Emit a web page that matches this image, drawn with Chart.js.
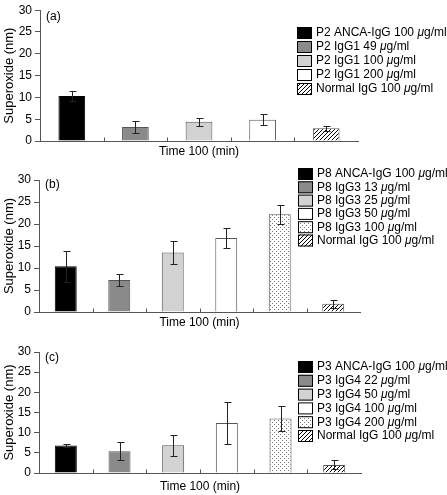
<!DOCTYPE html>
<html>
<head>
<meta charset="utf-8">
<script src="https://cdn.jsdelivr.net/npm/chart.js@4/dist/chart.umd.min.js"></script>
<style>
  body { margin: 0; background: #fff; width: 447px; height: 495px; position: relative; overflow: hidden; }
  canvas { position: absolute; left: 0; }
</style>
</head>
<body>
<canvas id="ca" width="447" height="163" style="top:0px"></canvas>
<canvas id="cb" width="447" height="171" style="top:163px"></canvas>
<canvas id="cc" width="447" height="161" style="top:334px"></canvas>
<script>
// data
const xTitle = 'Time 100 (min)';
const yTitle = 'Superoxide (nm)';

const labelsA = ['P2 ANCA-IgG 100 μg/ml', 'P2 IgG1 49 μg/ml', 'P2 IgG1 100 μg/ml', 'P2 IgG1 200 μg/ml', 'Normal IgG 100 μg/ml'];
const valuesA = [10.3, 3.2, 4.4, 4.9, 2.9];
const errorsA = [1.1, 1.4, 0.9, 1.3, 0.6];

const labelsB = ['P8 ANCA-IgG 100 μg/ml', 'P8 IgG3 13 μg/ml', 'P8 IgG3 25 μg/ml', 'P8 IgG3 50 μg/ml', 'P8 IgG3 100 μg/ml', 'Normal IgG 100 μg/ml'];
const valuesB = [10.4, 7.3, 13.5, 16.8, 22.2, 1.9];
const errorsB = [3.5, 1.4, 2.6, 2.3, 2.2, 0.9];

const labelsC = ['P3 ANCA-IgG 100 μg/ml', 'P3 IgG4 22 μg/ml', 'P3 IgG4 50 μg/ml', 'P3 IgG4 100 μg/ml', 'P3 IgG4 200 μg/ml', 'Normal IgG 100 μg/ml'];
const valuesC = [6.8, 5.4, 6.9, 12.4, 13.5, 2.0];
const errorsC = [0.3, 2.2, 2.6, 5.3, 3.0, 1.1];

const FONT = '"Liberation Sans", Arial, sans-serif';
const AXIS = '#555';

// fill patterns
function makeHatch() {
  const c = document.createElement('canvas');
  c.width = c.height = 4;
  const g = c.getContext('2d');
  g.fillStyle = '#fff';
  g.fillRect(0, 0, 4, 4);
  g.strokeStyle = '#000';
  g.lineWidth = 1;
  g.beginPath();
  g.moveTo(-1, 5); g.lineTo(5, -1);
  g.moveTo(-1, 1); g.lineTo(1, -1);
  g.moveTo(3, 5); g.lineTo(5, 3);
  g.stroke();
  return g.createPattern(c, 'repeat');
}
function makeDots() {
  const c = document.createElement('canvas');
  c.width = c.height = 4;
  const g = c.getContext('2d');
  g.fillStyle = '#fff';
  g.fillRect(0, 0, 4, 4);
  g.fillStyle = '#777';
  g.fillRect(0, 0, 1, 1);
  g.fillRect(2, 2, 1, 1);
  return g.createPattern(c, 'repeat');
}
const fillMap = {
  black: '#000',
  dark: '#8a8a8a',
  light: '#d2d2d2',
  white: '#fff',
  dots: makeDots(),
  hatch: makeHatch()
};
const styleFive = ['black', 'dark', 'light', 'white', 'hatch'];
const styleSix = ['black', 'dark', 'light', 'white', 'dots', 'hatch'];

const figPlugin = {
  id: 'fig',
  afterDatasetsDraw(chart) {
    const o = chart.options.plugins.fig;
    const ctx = chart.ctx;
    const y = chart.scales.y, x = chart.scales.x;
    const meta = chart.getDatasetMeta(0);
    ctx.save();
    // error bars
    ctx.strokeStyle = '#222';
    ctx.lineWidth = 1;
    meta.data.forEach((bar, i) => {
      const v = o.values[i], e = o.errors[i];
      const px = Math.round(bar.x) + 0.5;
      const top = Math.round(y.getPixelForValue(v + e)) + 0.5;
      const bot = Math.round(y.getPixelForValue(v - e)) + 0.5;
      ctx.beginPath();
      ctx.moveTo(px, top); ctx.lineTo(px, bot);
      ctx.moveTo(px - 3, top); ctx.lineTo(px + 4, top);
      ctx.moveTo(px - 3, bot); ctx.lineTo(px + 4, bot);
      ctx.stroke();
    });
    // inward ticks between categories
    ctx.strokeStyle = AXIS;
    const base = Math.round(chart.chartArea.bottom) + 0.5;
    for (let i = 1; i < o.values.length; i++) {
      const tx = Math.round((x.getPixelForValue(i - 1) + x.getPixelForValue(i)) / 2) + 0.5;
      ctx.beginPath();
      ctx.moveTo(tx, base); ctx.lineTo(tx, base - 4);
      ctx.stroke();
    }
    // panel tag
    ctx.fillStyle = '#000';
    ctx.font = '12px ' + FONT;
    ctx.textBaseline = 'middle';
    ctx.textAlign = 'left';
    ctx.fillText(o.tag, chart.chartArea.left + 6, chart.chartArea.top + o.tagDy);
    // legend
    const labels = chart.data.labels;
    const fills = chart.data.datasets[0].backgroundColor;
    labels.forEach((lab, i) => {
      const ly = o.legY + i * o.legStep;
      ctx.fillStyle = fills[i];
      ctx.fillRect(o.legX, ly - 6, 15, 12);
      ctx.strokeStyle = '#000';
      ctx.strokeRect(o.legX + 0.5, ly - 5.5, 14, 11);
      ctx.fillStyle = '#000';
      let tx = o.legX + 19;
      const parts = lab.split('μ');
      ctx.font = '12px ' + FONT;
      ctx.fillText(parts[0], tx, ly);
      tx += ctx.measureText(parts[0]).width;
      if (parts.length > 1) {
        ctx.font = 'italic 12px ' + FONT;
        ctx.fillText('μ', tx, ly);
        tx += ctx.measureText('μ').width;
        ctx.font = '12px ' + FONT;
        ctx.fillText(parts[1], tx, ly);
      }
    });
    ctx.restore();
  }
};

function makeChart(id, labels, values, errors, styles, opt) {
  return new Chart(document.getElementById(id), {
    type: 'bar',
    data: {
      labels,
      datasets: [{
        data: values,
        backgroundColor: styles.map(s => fillMap[s]),
        borderColor: styles.map(s => s === 'black' ? '#000' : '#555'),
        borderWidth: 1,
        borderSkipped: 'bottom',
        barPercentage: opt.barPct,
        categoryPercentage: 1
      }]
    },
    options: {
      responsive: false,
      animation: false,
      devicePixelRatio: 1,
      layout: { padding: { top: opt.top, right: opt.right, left: 0, bottom: 0 } },
      plugins: {
        legend: { display: false },
        tooltip: { enabled: false },
        fig: { values, errors, tag: opt.tag, tagDy: opt.tagDy, legX: opt.legX, legY: opt.legY, legStep: opt.legStep }
      },
      scales: {
        x: {
          grid: { display: false },
          border: { color: AXIS, width: 1 },
          ticks: { display: false },
          title: { display: true, text: xTitle, color: '#000', font: { family: FONT, size: 12 }, padding: { top: 0, bottom: opt.titlePad } },
          afterFit: s => { s.height = opt.xh; }
        },
        y: {
          min: 0,
          max: 30,
          ticks: { stepSize: 5, color: '#000', padding: 3, font: { family: FONT, size: 12 } },
          grid: { drawOnChartArea: false, tickLength: 5, color: AXIS },
          border: { color: AXIS, width: 1 },
          title: { display: true, text: yTitle, color: '#000', font: { family: FONT, size: 13 }, padding: { top: 2, bottom: 0 } },
          afterFit: s => { s.width = opt.left; }
        }
      }
    },
    plugins: [figPlugin]
  });
}

makeChart('ca', labelsA, valuesA, errorsA, styleFive,
  { left: 40, right: 89, top: 8, xh: 22, titlePad: 4, barPct: 0.42, tag: '(a)', tagDy: 6, legX: 297, legY: 33, legStep: 14 });
makeChart('cb', labelsB, valuesB, errorsB, styleSix,
  { left: 39, right: 87, top: 17, xh: 22, titlePad: 4, barPct: 0.41, tag: '(b)', tagDy: 5, legX: 298, legY: 11, legStep: 13.3 });
makeChart('cc', labelsC, valuesC, errorsC, styleSix,
  { left: 39, right: 86, top: 18, xh: 22, titlePad: 1, barPct: 0.41, tag: '(c)', tagDy: 6, legX: 298, legY: 33, legStep: 13.8 });
</script>
</body>
</html>
